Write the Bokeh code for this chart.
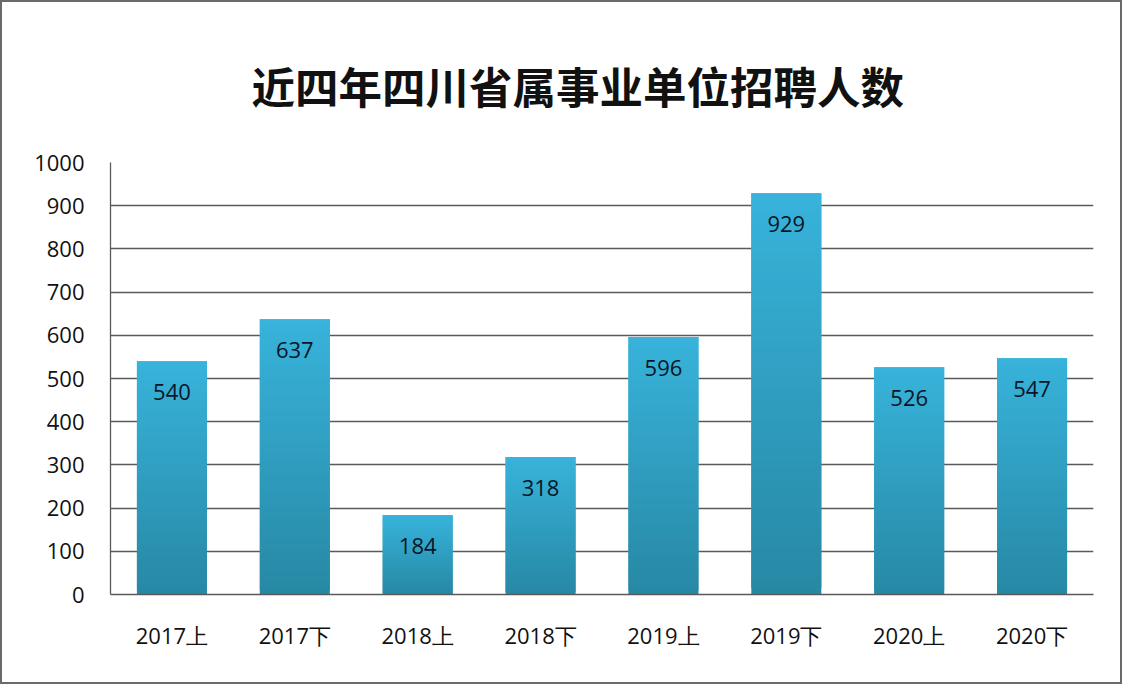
from bokeh.plotting import figure
from bokeh.models import ColumnDataSource, Range1d, FixedTicker, LabelSet
from bokeh.core.properties import value
from bokeh.embed import file_html
from bokeh.resources import INLINE

categories = ["2017上", "2017下", "2018上", "2018下", "2019上", "2019下", "2020上", "2020下"]
values = [540, 637, 184, 318, 596, 929, 526, 547]
y_ticks = [0, 100, 200, 300, 400, 500, 600, 700, 800, 900, 1000]
title_text = "近四年四川省属事业单位招聘人数"

top_rgb = (0x38, 0xb3, 0xdb)
bot_rgb = (0x27, 0x88, 0xa4)
N = 60

xs, bots, tops, cols = [], [], [], []
for c, v in zip(categories, values):
    for k in range(N):
        t = (k + 0.5) / N
        r = [int(round(b + (a - b) * t)) for a, b in zip(top_rgb, bot_rgb)]
        xs.append(c)
        bots.append(v * k / N)
        tops.append(min(v, v * (k + 2) / N))
        cols.append("#%02x%02x%02x" % tuple(r))

p = figure(x_range=categories, y_range=Range1d(0, 1000), width=1122, height=684,
           output_backend="svg", toolbar_location=None,
           min_border_left=108, min_border_right=31, min_border_top=160, min_border_bottom=92)
p.background_fill_color = "white"
p.border_fill_color = "white"
p.outline_line_color = None

p.title.text = title_text
p.title.text_font = "Noto Sans CJK SC"
p.title.text_font_size = "43.5px"
p.title.text_font_style = "bold"
p.title.text_color = "#111111"
p.title.align = "left"
p.title.offset = 141
p.title.standoff = 92

src = ColumnDataSource(dict(x=xs, bottom=bots, top=tops, color=cols))
p.vbar(x="x", bottom="bottom", top="top", width=0.57, color="color", source=src, line_width=0)

lsrc = ColumnDataSource(dict(x=categories, y=values, t=[str(v) for v in values]))
p.add_layout(LabelSet(x="x", y="y", text="t", source=lsrc, y_offset=-31,
                      text_align="center", text_baseline="middle",
                      text_font=value("Open Sans"), text_font_size="22px", text_color="#0a1626"))

p.yaxis.ticker = FixedTicker(ticks=y_ticks)
p.ygrid.ticker = FixedTicker(ticks=y_ticks)
p.ygrid.grid_line_color = "#5a5a5a"
p.ygrid.grid_line_width = 1.3
p.xgrid.grid_line_color = None

for ax in (p.xaxis, p.yaxis):
    ax.major_tick_line_color = None
    ax.minor_tick_line_color = None
    ax.major_label_text_font = "Open Sans"
    ax.major_label_text_font_size = "22px"
    ax.major_label_text_color = "#111111"
    ax.axis_line_color = "#5a5a5a"
    ax.axis_line_width = 1.3
p.yaxis.major_label_standoff = 20
p.xaxis.major_label_standoff = 19

p.styles = {"border": "2px solid #6a6a6a"}

open("out.html", "w").write(file_html(p, INLINE))
